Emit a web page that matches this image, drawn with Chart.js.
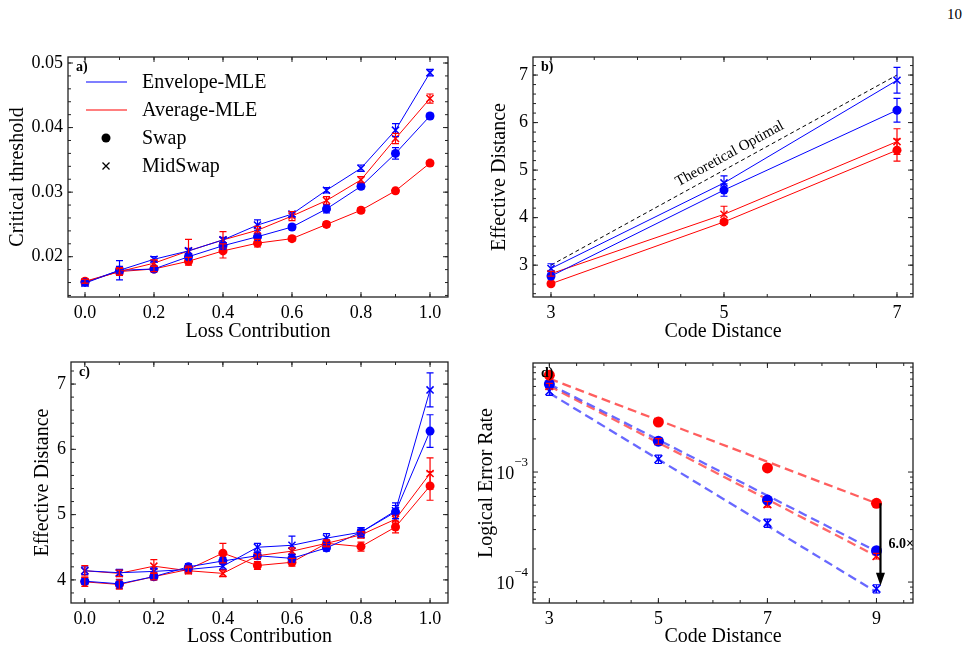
<!DOCTYPE html>
<html>
<head>
<meta charset="utf-8">
<script src="https://cdn.jsdelivr.net/npm/chart.js@4"></script>
<style>
  body { margin: 0; background: #fff; width: 974px; height: 650px; position: relative; overflow: hidden; }
  canvas { position: absolute; }
  #pg { position: absolute; left: 947px; top: 6px; font: 15px "Liberation Serif", serif; color: #000; }
</style>
</head>
<body>
<div id="pg">10</div>
<canvas id="ca" width="470" height="305" style="left:0;top:40px"></canvas>
<canvas id="cb" width="504" height="305" style="left:470px;top:40px"></canvas>
<canvas id="cc" width="470" height="305" style="left:0;top:345px"></canvas>
<canvas id="cd" width="504" height="305" style="left:470px;top:345px"></canvas>
<script>
// ---- data ----
const lossContrib = [0.0, 0.1, 0.2, 0.3, 0.4, 0.5, 0.6, 0.7, 0.8, 0.9, 1.0];
const lossTicks = [0.0, 0.2, 0.4, 0.6, 0.8, 1.0];

// a) critical threshold
const thrTicks = [0.02, 0.03, 0.04, 0.05];
const thrEnvSwap = [0.0160, 0.0179, 0.0181, 0.0200, 0.0217, 0.0231, 0.0246, 0.0274, 0.0309, 0.0360, 0.0418];
const thrEnvSwapErr = [0.0003, 0.0006, 0.0004, 0.0004, 0.0005, 0.0004, 0.0004, 0.0006, 0.0004, 0.0009, 0.0004];
const thrEnvMid = [0.0159, 0.0179, 0.0196, 0.0209, 0.0226, 0.0249, 0.0266, 0.0303, 0.0337, 0.0396, 0.0485];
const thrEnvMidErr = [0.0003, 0.0015, 0.0004, 0.0004, 0.0004, 0.0008, 0.0004, 0.0004, 0.0005, 0.0010, 0.0005];
const thrAvgSwap = [0.0162, 0.0177, 0.0181, 0.0193, 0.0209, 0.0221, 0.0228, 0.0250, 0.0272, 0.0302, 0.0345];
const thrAvgSwapErr = [0.0003, 0.0005, 0.0004, 0.0006, 0.0011, 0.0006, 0.0004, 0.0004, 0.0004, 0.0004, 0.0004];
const thrAvgMid = [0.0161, 0.0177, 0.0190, 0.0209, 0.0226, 0.0241, 0.0263, 0.0287, 0.0319, 0.0383, 0.0445];
const thrAvgMidErr = [0.0003, 0.0006, 0.0005, 0.0018, 0.0013, 0.0006, 0.0007, 0.0006, 0.0005, 0.0008, 0.0007];

// b) effective distance vs code distance
const codeDist = [3, 5, 7];
const effTicksB = [3, 4, 5, 6, 7];
const theoDist = [3, 7];
const effEnvSwapB = [2.77, 4.58, 6.26];
const effEnvSwapBErr = [0.06, 0.13, 0.25];
const effEnvMidB = [2.93, 4.73, 6.89];
const effEnvMidBErr = [0.10, 0.15, 0.27];
const effAvgSwapB = [2.61, 3.91, 5.42];
const effAvgSwapBErr = [0.04, 0.05, 0.23];
const effAvgMidB = [2.82, 4.07, 5.60];
const effAvgMidBErr = [0.05, 0.17, 0.27];

// c) effective distance vs loss contribution
const effTicksC = [4, 5, 6, 7];
const effEnvSwapC = [3.98, 3.94, 4.05, 4.20, 4.29, 4.37, 4.33, 4.49, 4.73, 5.04, 6.28];
const effEnvSwapCErr = [0.05, 0.07, 0.05, 0.05, 0.05, 0.05, 0.06, 0.05, 0.07, 0.10, 0.25];
const effEnvMidC = [4.14, 4.11, 4.13, 4.16, 4.21, 4.50, 4.53, 4.64, 4.73, 5.06, 6.91];
const effEnvMidCErr = [0.06, 0.05, 0.05, 0.05, 0.05, 0.06, 0.14, 0.07, 0.07, 0.12, 0.26];
const effAvgSwapC = [3.97, 3.93, 4.05, 4.16, 4.41, 4.22, 4.27, 4.56, 4.51, 4.81, 5.44];
const effAvgSwapCErr = [0.07, 0.07, 0.05, 0.05, 0.15, 0.06, 0.06, 0.05, 0.07, 0.09, 0.22];
const effAvgMidC = [4.14, 4.10, 4.21, 4.14, 4.10, 4.37, 4.44, 4.56, 4.69, 4.93, 5.63];
const effAvgMidCErr = [0.08, 0.05, 0.10, 0.05, 0.05, 0.05, 0.05, 0.05, 0.05, 0.06, 0.24];

// d) logical error rate
const codeDistD = [3, 5, 7, 9];
const fitDist = [3, 9];
const lerAvgSwap = [7.6e-3, 2.85e-3, 1.09e-3, 5.2e-4];
const lerAvgMid = [6.05e-3, 1.9e-3, 5.1e-4, 1.72e-4];
const lerAvgMidErr = [3.5e-4, 1.1e-4, 3e-5, 1e-5];
const lerEnvSwap = [6.3e-3, 1.91e-3, 5.56e-4, 1.93e-4];
const lerEnvMid = [5.44e-3, 1.31e-3, 3.44e-4, 8.7e-5];
const lerEnvMidErr = [4.7e-4, 1.14e-4, 3e-5, 7.5e-6];
const fitAvgSwap = [7.06e-3, 5.2e-4];
const fitAvgMid = [6.05e-3, 1.72e-4];
const fitEnvSwap = [6.3e-3, 1.9e-4];
const fitEnvMid = [5.22e-3, 8.1e-5];
const ratioLabel = '6.0×';

const legendLabels = ['Envelope-MLE', 'Average-MLE', 'Swap', 'MidSwap'];

// ---- style ----
const BLUE = 'rgb(0,0,255)';
const RED = 'rgb(255,0,0)';
const SERIF = '"Liberation Serif", "Times New Roman", serif';
Chart.defaults.font.family = SERIF;
Chart.defaults.color = '#000';

const pts = (xs, ys) => xs.map((x, i) => ({ x: x, y: ys[i] }));

function series(xs, ys, errs, color, marker, extra) {
  return Object.assign({
    data: pts(xs, ys),
    errors: errs,
    showLine: true,
    borderColor: color,
    backgroundColor: color,
    borderWidth: 1,
    pointStyle: marker === 'x' ? 'crossRot' : 'circle',
    pointRadius: marker === 'x' ? 5 : 4.5,
    pointBorderWidth: marker === 'x' ? 1.5 : 0
  }, extra || {});
}

function range(a, b, step) {
  const out = [];
  for (let v = a; v <= b + 1e-9; v += step) out.push(+v.toFixed(6));
  return out;
}

// frame around the plot + inward ticks on all sides
const frameTicks = {
  id: 'frameTicks',
  afterDraw(chart, args, o) {
    const { ctx, chartArea: a } = chart;
    const xs = chart.scales.x, ys = chart.scales.y;
    ctx.save();
    ctx.strokeStyle = '#222';
    ctx.lineWidth = 1.3;
    ctx.strokeRect(a.left, a.top, a.right - a.left, a.bottom - a.top);
    ctx.lineWidth = 1;
    const draw = (vals, len, horiz) => vals.forEach(v => {
      const p = (horiz ? xs : ys).getPixelForValue(v);
      ctx.beginPath();
      if (horiz) {
        if (p < a.left || p > a.right) return;
        ctx.moveTo(p, a.bottom); ctx.lineTo(p, a.bottom - len);
        ctx.moveTo(p, a.top); ctx.lineTo(p, a.top + len);
      } else {
        if (p < a.top || p > a.bottom) return;
        ctx.moveTo(a.left, p); ctx.lineTo(a.left + len, p);
        ctx.moveTo(a.right, p); ctx.lineTo(a.right - len, p);
      }
      ctx.stroke();
    });
    draw(o.xMajor, 5, true);
    draw(o.xMinor, 3, true);
    draw(o.yMajor, 5, false);
    draw(o.yMinor, 3, false);
    if (o.label) {
      ctx.font = 'bold 14px ' + SERIF;
      ctx.fillStyle = '#000';
      ctx.textBaseline = 'middle';
      ctx.fillText(o.label, a.left + 8, a.top + 10);
    }
    ctx.restore();
  }
};

// vertical error bars with caps
const errorBars = {
  id: 'errorBars',
  afterDatasetsDraw(chart) {
    const { ctx } = chart;
    const xs = chart.scales.x, ys = chart.scales.y;
    ctx.save();
    chart.data.datasets.forEach(ds => {
      if (!ds.errors) return;
      ctx.strokeStyle = ds.borderColor;
      ctx.lineWidth = 1.2;
      ds.data.forEach((pt, j) => {
        const e = ds.errors[j];
        const x = xs.getPixelForValue(pt.x);
        const y1 = ys.getPixelForValue(pt.y - e);
        const y2 = ys.getPixelForValue(pt.y + e);
        ctx.beginPath();
        ctx.moveTo(x, y1); ctx.lineTo(x, y2);
        ctx.moveTo(x - 3.5, y1); ctx.lineTo(x + 3.5, y1);
        ctx.moveTo(x - 3.5, y2); ctx.lineTo(x + 3.5, y2);
        ctx.stroke();
      });
    });
    ctx.restore();
  }
};

function axes(c) {
  return {
    x: {
      type: 'linear', min: c.xMin, max: c.xMax,
      afterBuildTicks: s => { s.ticks = c.xTicks.map(v => ({ value: v })); },
      afterFit: s => { s.height = c.xH; },
      grid: { display: false, drawTicks: false },
      border: { display: false },
      ticks: { padding: 5, maxRotation: 0, autoSkip: false, callback: c.xFmt, font: { size: 18 }, color: '#000' },
      title: { display: true, text: c.xTitle, font: { size: 20 }, color: '#000', padding: { top: 1, bottom: 1 } }
    },
    y: {
      type: c.yType || 'linear', min: c.yMin, max: c.yMax,
      afterBuildTicks: s => { s.ticks = c.yTicks.map(v => ({ value: v })); },
      afterFit: s => { s.width = c.yW; },
      grid: { display: false, drawTicks: false },
      border: { display: false },
      ticks: { display: c.yLabels !== false, padding: 5, autoSkip: false, callback: c.yFmt, font: { size: 18 }, color: '#000' },
      title: { display: true, text: c.yTitle, font: { size: 20 }, color: '#000', padding: 4 }
    }
  };
}

function baseOptions(pad, scales, frame) {
  return {
    responsive: false,
    animation: false,
    layout: { padding: pad },
    plugins: { legend: { display: false }, tooltip: { enabled: false }, frameTicks: frame },
    scales: scales
  };
}

// ---- a) ----
const legendA = {
  id: 'legendA',
  afterDraw(chart) {
    const { ctx, chartArea: a } = chart;
    const rows = [25, 53, 81, 109];
    ctx.save();
    ctx.font = '20px ' + SERIF;
    ctx.textBaseline = 'middle';
    ctx.fillStyle = '#000';
    [[BLUE, 0], [RED, 1]].forEach(([col, i]) => {
      ctx.strokeStyle = col; ctx.lineWidth = 1.2;
      ctx.beginPath(); ctx.moveTo(a.left + 18, a.top + rows[i]); ctx.lineTo(a.left + 59, a.top + rows[i]); ctx.stroke();
    });
    ctx.beginPath(); ctx.arc(a.left + 38, a.top + rows[2], 4.5, 0, Math.PI * 2); ctx.fill();
    ctx.strokeStyle = '#000'; ctx.lineWidth = 1.3;
    const cx = a.left + 38, cy = a.top + rows[3];
    ctx.beginPath(); ctx.moveTo(cx - 3.5, cy - 3.5); ctx.lineTo(cx + 3.5, cy + 3.5);
    ctx.moveTo(cx + 3.5, cy - 3.5); ctx.lineTo(cx - 3.5, cy + 3.5); ctx.stroke();
    legendLabels.forEach((t, i) => ctx.fillText(t, a.left + 74, a.top + rows[i] + 1));
    ctx.restore();
  }
};

new Chart(document.getElementById('ca'), {
  type: 'scatter',
  data: { datasets: [
    series(lossContrib, thrEnvMid, thrEnvMidErr, BLUE, 'x'),
    series(lossContrib, thrAvgMid, thrAvgMidErr, RED, 'x'),
    series(lossContrib, thrEnvSwap, thrEnvSwapErr, BLUE, 'o'),
    series(lossContrib, thrAvgSwap, thrAvgSwapErr, RED, 'o')
  ] },
  options: baseOptions({ left: 2, top: 17, right: 22, bottom: 0 }, axes({
    xMin: -0.0493, xMax: 1.0522, xTicks: lossTicks, xH: 48, xFmt: v => v.toFixed(1), xTitle: 'Loss Contribution',
    yMin: 0.01376, yMax: 0.05093, yTicks: thrTicks, yW: 66, yFmt: v => v.toFixed(2), yTitle: 'Critical threshold'
  }), { xMajor: lossTicks, xMinor: range(0, 1, 0.1), yMajor: thrTicks, yMinor: range(0.014, 0.05, 0.002), label: 'a)' }),
  plugins: [errorBars, frameTicks, legendA]
});

// ---- b) ----
const theoLabel = {
  id: 'theoLabel',
  afterDraw(chart) {
    const { ctx } = chart;
    const xs = chart.scales.x, ys = chart.scales.y;
    const x0 = xs.getPixelForValue(3), y0 = ys.getPixelForValue(3);
    const x1 = xs.getPixelForValue(7), y1 = ys.getPixelForValue(7);
    const ang = Math.atan2(y1 - y0, x1 - x0);
    const px = xs.getPixelForValue(5.13), py = ys.getPixelForValue(5.13);
    ctx.save();
    ctx.translate(px, py);
    ctx.rotate(ang);
    ctx.font = '15px ' + SERIF;
    ctx.fillStyle = '#000';
    ctx.textAlign = 'center';
    ctx.textBaseline = 'bottom';
    ctx.fillText('Theoretical Optimal', 0, -4);
    ctx.restore();
  }
};

new Chart(document.getElementById('cb'), {
  type: 'scatter',
  data: { datasets: [
    { data: pts(theoDist, theoDist), showLine: true, borderColor: '#000', borderWidth: 1, borderDash: [4, 3], pointRadius: 0 },
    series(codeDist, effEnvMidB, effEnvMidBErr, BLUE, 'x'),
    series(codeDist, effEnvSwapB, effEnvSwapBErr, BLUE, 'o'),
    series(codeDist, effAvgMidB, effAvgMidBErr, RED, 'x'),
    series(codeDist, effAvgSwapB, effAvgSwapBErr, RED, 'o')
  ] },
  options: baseOptions({ left: 14, top: 17, right: 61, bottom: 0 }, axes({
    xMin: 2.792, xMax: 7.185, xTicks: codeDist, xH: 48, xFmt: v => String(v), xTitle: 'Code Distance',
    yMin: 2.33, yMax: 7.38, yTicks: effTicksB, yW: 49, yFmt: v => String(v), yTitle: 'Effective Distance'
  }), { xMajor: codeDist, xMinor: range(3, 7, 0.5), yMajor: effTicksB, yMinor: range(2.4, 7.4, 0.2), label: 'b)' }),
  plugins: [errorBars, frameTicks, theoLabel]
});

// ---- c) ----
new Chart(document.getElementById('cc'), {
  type: 'scatter',
  data: { datasets: [
    series(lossContrib, effEnvMidC, effEnvMidCErr, BLUE, 'x'),
    series(lossContrib, effAvgMidC, effAvgMidCErr, RED, 'x'),
    series(lossContrib, effEnvSwapC, effEnvSwapCErr, BLUE, 'o'),
    series(lossContrib, effAvgSwapC, effAvgSwapCErr, RED, 'o')
  ] },
  options: baseOptions({ left: 27, top: 17, right: 22, bottom: 0 }, axes({
    xMin: -0.04, xMax: 1.052, xTicks: lossTicks, xH: 47, xFmt: v => v.toFixed(1), xTitle: 'Loss Contribution',
    yMin: 3.646, yMax: 7.338, yTicks: effTicksC, yW: 44, yFmt: v => String(v), yTitle: 'Effective Distance'
  }), { xMajor: lossTicks, xMinor: range(0, 1, 0.1), yMajor: effTicksC, yMinor: range(3.8, 7.2, 0.2), label: 'c)' }),
  plugins: [errorBars, frameTicks]
});

// ---- d) ----
const decadeTicks = [1e-4, 1e-3];
const logMinor = [7e-5, 8e-5, 9e-5].concat(range(2, 9, 1).map(v => v * 1e-4), range(2, 9, 1).map(v => v * 1e-3));
const fitLine = (ys, color) => ({
  data: pts(fitDist, ys), showLine: true, borderColor: color, borderWidth: 2.3,
  borderDash: [9, 5], pointRadius: 0
});
const markers = (ys, errs, color, marker) => series(codeDistD, ys, errs, color, marker, {
  showLine: false, pointRadius: 5.5, pointBorderWidth: marker === 'x' ? 1.6 : 0
});

const arrowD = {
  id: 'arrowD',
  afterDraw(chart) {
    const { ctx } = chart;
    const xs = chart.scales.x, ys = chart.scales.y;
    const x = xs.getPixelForValue(9) + 4;
    const y1 = ys.getPixelForValue(lerAvgSwap[3]);
    const y2 = ys.getPixelForValue(lerEnvMid[3]) - 3;
    ctx.save();
    ctx.strokeStyle = '#000'; ctx.fillStyle = '#000'; ctx.lineWidth = 2.2;
    ctx.beginPath(); ctx.moveTo(x, y1); ctx.lineTo(x, y2 - 10); ctx.stroke();
    ctx.beginPath(); ctx.moveTo(x, y2); ctx.lineTo(x - 4.5, y2 - 13); ctx.lineTo(x + 4.5, y2 - 13); ctx.closePath(); ctx.fill();
    ctx.font = 'bold 14px ' + SERIF;
    ctx.textBaseline = 'middle';
    ctx.fillText(ratioLabel, x + 8, (y1 + y2) / 2);
    // log tick labels with superscripts
    const a = chart.chartArea;
    decadeTicks.forEach(v => {
      const y = ys.getPixelForValue(v);
      const exp = '\u2212' + Math.round(-Math.log10(v));
      ctx.font = '13px ' + SERIF;
      const ew = ctx.measureText(exp).width;
      ctx.textAlign = 'right';
      ctx.fillText(exp, a.left - 5, y - 9);
      ctx.font = '18px ' + SERIF;
      ctx.fillText('10', a.left - 5 - ew, y + 2);
    });
    ctx.restore();
  }
};

new Chart(document.getElementById('cd'), {
  type: 'scatter',
  data: { datasets: [
    markers(lerAvgSwap, null, RED, 'o'),
    markers(lerEnvSwap, null, BLUE, 'o'),
    markers(lerAvgMid, lerAvgMidErr, RED, 'x'),
    markers(lerEnvMid, lerEnvMidErr, BLUE, 'x'),
    fitLine(fitAvgSwap, 'rgba(255,40,40,0.75)'),
    fitLine(fitEnvSwap, 'rgba(40,40,255,0.7)'),
    fitLine(fitAvgMid, 'rgba(255,40,40,0.7)'),
    fitLine(fitEnvMid, 'rgba(40,40,255,0.7)')
  ] },
  options: baseOptions({ left: 1, top: 18, right: 61, bottom: 0 }, axes({
    xMin: 2.70, xMax: 9.67, xTicks: codeDistD, xH: 47, xFmt: v => String(v), xTitle: 'Code Distance',
    yType: 'logarithmic', yMin: 6.45e-5, yMax: 9.8e-3, yTicks: decadeTicks, yW: 62, yLabels: false, yFmt: v => '', yTitle: 'Logical Error Rate'
  }), { xMajor: codeDistD, xMinor: range(3, 9.5, 0.5), yMajor: decadeTicks, yMinor: logMinor, label: 'd)' }),
  plugins: [errorBars, frameTicks, arrowD]
});
</script>
</body>
</html>
